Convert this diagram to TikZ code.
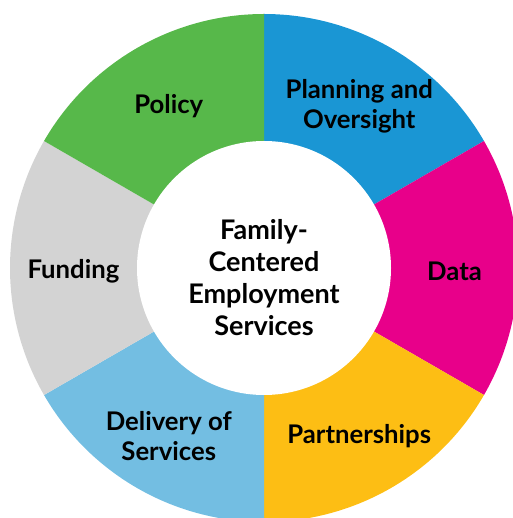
\documentclass[tikz,border=0pt]{standalone}
\usepackage{fontspec}
\setmainfont{Lato}
\usetikzlibrary{positioning, calc}
\definecolor{policygreen}{HTML}{57B84A}
\definecolor{planblue}{HTML}{1A96D4}
\definecolor{datapink}{HTML}{E8008A}
\definecolor{partyellow}{HTML}{FDBE14}
\definecolor{deliveryblue}{HTML}{73BEE2}
\definecolor{fundgrey}{HTML}{D3D3D3}

\begin{document}
\begin{tikzpicture}[x=1pt, y=1pt]
    % Stili per gli spicchi e le etichette
    \tikzset{
        segment_label/.style={
            text=black,
            align=center, % Testo centrato
            font=\bfseries\fontsize{25.7}{30}\selectfont, % Grassetto
            inner sep=0pt
        },
        hub/.style={
            circle,
            fill=white,
            minimum size=254, % Diametro del cerchio interno
            inner sep=0pt
        }
    }

    \useasboundingbox (-264,-250) rectangle (248,268);

    % Spicchi dell'anello (raggio 254)
    \fill[planblue] (0,0) -- (90:254) arc (90:30:254) -- cycle;
    \fill[datapink] (0,0) -- (30:254) arc (30:-30:254) -- cycle;
    \fill[partyellow] (0,0) -- (-30:254) arc (-30:-90:254) -- cycle;
    \fill[deliveryblue] (0,0) -- (-90:254) arc (-90:-150:254) -- cycle;
    \fill[fundgrey] (0,0) -- (-150:254) arc (-150:-210:254) -- cycle;
    \fill[policygreen] (0,0) -- (150:254) arc (150:90:254) -- cycle;

    % Cerchio centrale
    \node[hub] (center) at (0,0) {};
    \node[segment_label, font=\bfseries\fontsize{27}{32}\selectfont] (center_text) at (0,-10)
        {Family-\\Centered\\Employment\\Services};

    % Etichette degli spicchi (a meta' dell'anello)
    \node[segment_label] (planning) at ($(60:190.5)+(0,-3)$) {Planning and\\Oversight};
    \node[segment_label] (data) at ($(0:190.5)+(0,-3)$) {Data};
    \node[segment_label] (partnerships) at ($(-60:190.5)+(0,-3)$) {Partnerships};
    \node[segment_label] (delivery) at ($(-120:190.5)+(0,-3)$) {Delivery of\\Services};
    \node[segment_label] (funding) at ($(180:190.5)+(0,-3)$) {Funding};
    \node[segment_label] (policy) at ($(120:190.5)+(0,-3)$) {Policy};

\end{tikzpicture}
\end{document}
